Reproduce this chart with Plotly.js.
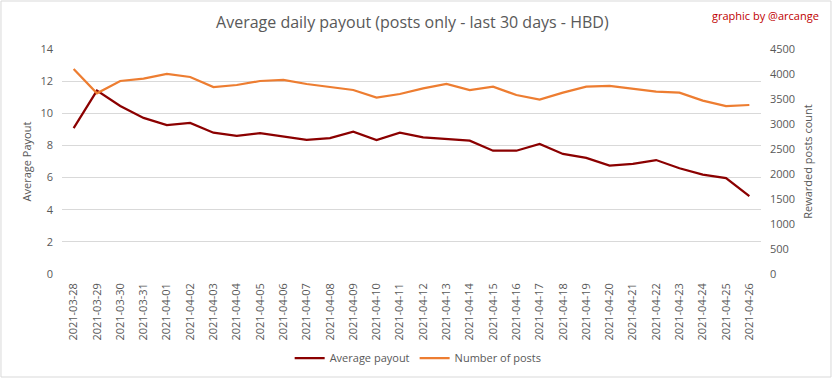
<!DOCTYPE html>
<html>
<head>
<meta charset="utf-8">
<script src="https://cdn.plot.ly/plotly-3.0.1.min.js"></script>
<style>html,body{margin:0;padding:0;background:#fff}#chart{width:833px;height:379px}</style>
</head>
<body>
<div id="chart"></div>
<script>
const dates = ["2021-03-28","2021-03-29","2021-03-30","2021-03-31","2021-04-01","2021-04-02","2021-04-03","2021-04-04","2021-04-05","2021-04-06","2021-04-07","2021-04-08","2021-04-09","2021-04-10","2021-04-11","2021-04-12","2021-04-13","2021-04-14","2021-04-15","2021-04-16","2021-04-17","2021-04-18","2021-04-19","2021-04-20","2021-04-21","2021-04-22","2021-04-23","2021-04-24","2021-04-25","2021-04-26"];
const avgPayout = [9.08,11.41,10.45,9.71,9.27,9.4,8.79,8.59,8.77,8.56,8.34,8.46,8.86,8.34,8.79,8.5,8.38,8.3,7.67,7.67,8.09,7.47,7.22,6.74,6.85,7.09,6.58,6.18,5.97,4.85];
const numPosts = [4100,3613,3860,3907,4000,3940,3740,3780,3860,3880,3800,3733,3680,3527,3600,3713,3800,3680,3747,3580,3487,3627,3747,3760,3707,3647,3627,3467,3360,3380];
const leftTicks = [0,2,4,6,8,10,12,14];
const rightTicks = [0,500,1000,1500,2000,2500,3000,3500,4000,4500];

const font = "Open Sans, Liberation Sans, sans-serif";
const gray = "#595959";
const data = [
  {x: dates, y: avgPayout, name: "Average payout", type: "scatter", mode: "lines",
   line: {color: "#8b0000", width: 2.25}, yaxis: "y"},
  {x: dates, y: numPosts, name: "Number of posts", type: "scatter", mode: "lines",
   line: {color: "#ed7d31", width: 2.25}, yaxis: "y2"}
];
const layout = {
  width: 833, height: 379,
  margin: {l: 62, r: 72, t: 49, b: 105},
  paper_bgcolor: "#fff", plot_bgcolor: "#fff",
  font: {family: font, color: gray, size: 11},
  title: {text: "Average daily payout (posts only - last 30 days - HBD)", font: {size: 16, color: gray, family: font}, x: 0.495, xanchor: "center", y: 0.942, yanchor: "middle"},
  showlegend: true,
  legend: {orientation: "h", x: 0.502, xanchor: "center", xref: "container", y: 0.055, yanchor: "middle", yref: "container", font: {size: 11, color: gray}},
  xaxis: {type: "category", range: [-0.5, 29.5], tickangle: -90, automargin: false, ticklabelstandoff: 6, showgrid: false, showline: false, ticks: "", tickfont: {size: 11, color: gray}, zeroline: false},
  yaxis: {range: [0, 14], tickvals: leftTicks, automargin: false, ticklabelstandoff: 8, showgrid: true, gridcolor: "#d9d9d9", zeroline: false, showline: false, ticks: "", tickfont: {size: 11, color: gray},
          title: {text: "Average Payout", font: {size: 11, color: gray}, standoff: 6}},
  yaxis2: {range: [0, 4500], tickvals: rightTicks, automargin: false, ticklabelstandoff: 8, overlaying: "y", side: "right", showgrid: false, zeroline: false, showline: false, ticks: "", tickfont: {size: 11, color: gray},
          title: {text: "Rewarded posts count", font: {size: 11, color: gray}, standoff: 10}},
  annotations: [{text: "graphic by @arcange", xref: "paper", yref: "paper", x: 1.0858, y: 1.151, xanchor: "right", yanchor: "middle", showarrow: false, font: {size: 11, color: "#c00000", family: font}}],
  shapes: [{type: "rect", xref: "paper", yref: "paper", x0: -0.0873, x1: 1.1001, y0: -0.4578, y1: 1.2133, line: {color: "#d9d9d9", width: 1}}]
};
Plotly.newPlot("chart", data, layout, {displayModeBar: false});
</script>
</body>
</html>
